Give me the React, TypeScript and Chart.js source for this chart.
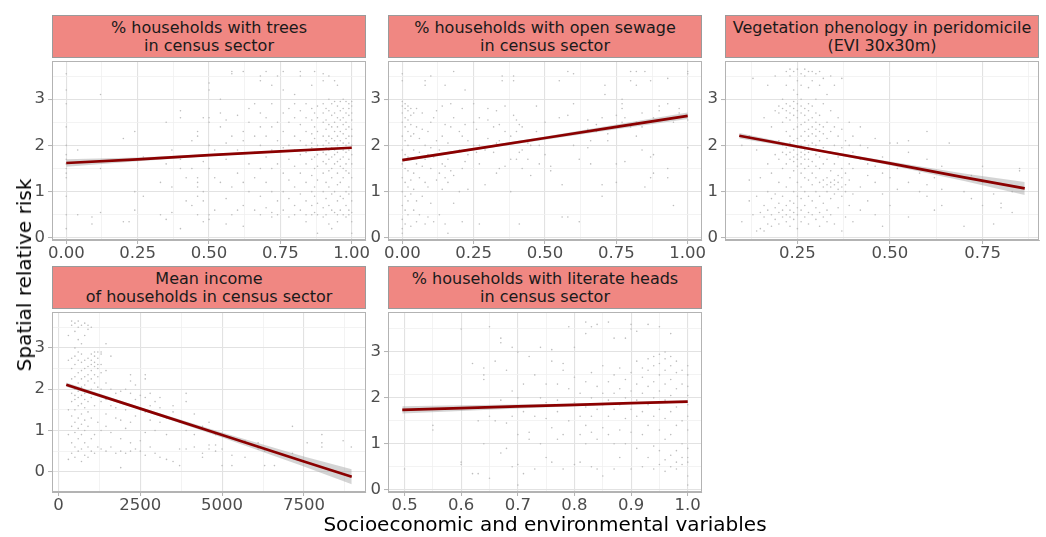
import React, { useEffect, useRef } from "react";
import { Chart, registerables } from "chart.js";

Chart.register(...registerables);

const FONT = "DejaVu Sans";

// ---------- tick labels ----------
const unitTicks = [0, 0.25, 0.5, 0.75, 1];
const unitLabels = ["0.00", "0.25", "0.50", "0.75", "1.00"];
const unitMinor = [0.125, 0.375, 0.625, 0.875];
const eviTicks = [0.25, 0.5, 0.75];
const eviLabels = ["0.25", "0.50", "0.75"];
const eviMinor = [0.125, 0.375, 0.625, 0.875];
const incomeTicks = [0, 2500, 5000, 7500];
const incomeLabels = ["0", "2500", "5000", "7500"];
const incomeMinor = [1250, 3750, 6250, 8750];
const literacyTicks = [0.5, 0.6, 0.7, 0.8, 0.9, 1.0];
const literacyLabels = ["0.5", "0.6", "0.7", "0.8", "0.9", "1.0"];
const literacyMinor = [0.55, 0.65, 0.75, 0.85, 0.95];
const riskTicks = [0, 1, 2, 3];
const riskLabels = ["0", "1", "2", "3"];
const riskMinor = [0.5, 1.5, 2.5, 3.5];

// ---------- scatter points: [x, [y values]] ----------
type Col = [number, number[]];

const treesPoints: Col[] = [
  [0.0, [0.2, 0.5, 0.9, 1.3, 1.4, 1.5, 1.6, 1.7, 1.8, 2.0, 2.4, 2.9, 3.2, 3.55]],
  [0.04, [1.9, 0.5]], [0.09, [0.45, 0.3]], [0.12, [3.1, 0.55, 1.5]],
  [0.2, [0.35, 2.15]], [0.22, [0.35]], [0.24, [0.6, 1.0, 2.3]], [0.27, [0.9, 1.75]],
  [0.33, [1.2, 0.5]], [0.35, [2.5, 0.4, 1.6]], [0.37, [0.55, 1.9, 1.1]],
  [0.4, [2.75, 2.6, 1.5, 1.7, 0.2]], [0.42, [0.8, 1.3]], [0.44, [1.5, 0.7, 2.1]],
  [0.46, [2.2, 1.3, 1.2, 1.1, 0.9, 0.5, 2.3]], [0.48, [1.65, 1.0, 0.8, 0.35, 2.6]],
  [0.5, [3.2, 3.35, 2.6, 2.5, 2.0, 1.5, 0.5, 0.4]], [0.52, [1.9, 1.3, 0.6]],
  [0.54, [3.0, 2.7, 2.4, 1.8, 1.2]], [0.56, [2.55, 2.05, 1.7, 0.85, 0.3]],
  [0.58, [3.6, 3.55, 2.2, 1.1, 0.5]], [0.6, [2.65, 1.9, 1.4, 0.6]],
  [0.62, [3.6, 2.3, 2.1, 1.2, 0.7, 0.25]], [0.64, [2.5, 2.8, 1.6, 1.0]],
  [0.66, [2.9, 2.2, 1.85, 1.3, 0.6]], [0.68, [3.5, 3.4, 2.7, 2.4, 2.0, 1.5, 0.5, 0.9]],
  [0.7, [3.6, 2.6, 2.2, 1.75, 1.2, 0.65]], [0.72, [3.3, 2.9, 2.4, 1.9, 1.5, 1.0, 0.55, 0.45]],
  [0.74, [3.5, 2.5, 2.1, 1.6, 0.8, 0.5]], [0.76, [3.6, 3.2, 2.7, 2.3, 1.95, 1.4, 1.0, 0.6]],
  [0.78, [2.8, 2.5, 2.0, 1.7, 1.25, 0.85, 0.45]],
  [0.8, [3.1, 2.9, 2.6, 2.2, 1.9, 1.55, 1.1, 0.7, 0.5]],
  [0.82, [3.5, 3.6, 2.75, 2.45, 2.1, 1.8, 1.4, 0.95, 0.6]],
  [0.84, [2.9, 2.6, 2.3, 2.0, 1.85, 1.6, 1.2, 0.8, 0.5, 0.35]],
  [0.86, [3.3, 2.8, 2.55, 2.25, 2.05, 1.95, 1.7, 1.35, 1.0, 0.7, 0.5]],
  [0.87, [3.6, 2.7, 2.4, 2.15, 1.9, 1.75, 1.5, 1.1, 0.9, 0.55]],
  [0.88, [2.85, 2.6, 2.3, 2.0, 1.8, 1.55, 1.25, 0.75, 0.5, 0.1]],
  [0.9, [3.55, 3.4, 2.9, 2.7, 2.5, 2.2, 2.0, 1.85, 1.65, 1.4, 1.0, 0.65, 0.45]],
  [0.91, [2.8, 2.55, 2.35, 2.1, 1.95, 1.8, 1.6, 1.2, 0.85, 0.5]],
  [0.92, [3.5, 3.0, 2.75, 2.45, 2.2, 2.05, 1.9, 1.7, 1.45, 1.1, 0.7, 0.3]],
  [0.93, [2.9, 2.65, 2.4, 2.15, 1.95, 1.75, 1.5, 1.3, 0.95, 0.6, 0.2]],
  [0.94, [3.4, 2.95, 2.7, 2.5, 2.3, 2.1, 1.9, 1.8, 1.6, 1.0, 0.55]],
  [0.95, [3.3, 2.85, 2.6, 2.4, 2.2, 2.0, 1.85, 1.65, 1.4, 1.15, 0.8, 0.5, 0.35]],
  [0.96, [2.95, 2.75, 2.55, 2.3, 2.1, 1.95, 1.7, 1.55, 1.2, 0.9, 0.6]],
  [0.97, [3.0, 2.8, 2.6, 2.45, 2.25, 2.05, 1.9, 1.75, 1.5, 1.3, 0.85, 0.5]],
  [0.98, [2.95, 2.7, 2.5, 2.35, 2.15, 2.0, 1.85, 1.6, 1.45, 1.0, 0.7, 0.45]],
  [0.99, [2.9, 2.8, 2.65, 2.4, 2.2, 2.05, 1.9, 1.7, 1.4, 1.1, 0.95, 0.6, 0.5]],
  [1.0, [2.95, 2.85, 2.7, 2.55, 2.35, 2.2, 2.0, 1.8, 1.6, 1.3, 1.0, 0.8, 0.55, 0.35, 0.1]],
];

const sewagePoints: Col[] = [
  [0.0, [0.1, 0.2, 0.4, 0.7, 1.0, 1.3, 1.6, 1.9, 2.2, 2.5, 2.7, 2.85, 2.95, 3.4, 3.55]],
  [0.01, [0.3, 0.6, 0.9, 1.2, 1.5, 1.8, 2.1, 2.4, 2.6, 2.8, 2.9]],
  [0.02, [0.5, 0.8, 1.1, 1.45, 1.75, 2.0, 2.3, 2.55, 2.75, 2.85]],
  [0.03, [0.25, 0.95, 1.25, 1.7, 2.2, 2.45, 2.65, 2.8]],
  [0.04, [0.6, 1.05, 1.4, 1.9, 2.25, 2.7]], [0.05, [0.35, 0.8, 1.6, 2.4, 2.8]],
  [0.06, [0.5, 1.3, 1.85, 2.15]], [0.07, [0.9, 1.55, 2.35, 2.7]],
  [0.08, [0.3, 1.2, 1.7, 2.0, 3.3, 3.4]], [0.09, [0.45, 1.1, 1.8, 2.3]],
  [0.1, [0.75, 1.5, 1.95, 2.5, 3.5]], [0.11, [0.35, 1.75, 2.6]], [0.12, [1.25, 2.1, 2.75]],
  [0.13, [0.5, 1.4, 1.9]], [0.14, [1.05, 1.6, 2.2, 2.85]], [0.15, [0.3, 1.3, 1.55, 2.45, 3.3]],
  [0.16, [0.1, 1.2, 1.7, 2.05]], [0.17, [1.45, 1.85, 2.4, 2.9]], [0.18, [0.75, 1.35, 2.6, 3.6]],
  [0.2, [1.0, 1.9, 2.3]], [0.21, [0.35, 1.5, 2.2, 2.8]], [0.22, [1.65, 2.45, 3.2]],
  [0.23, [1.05, 1.8, 2.1]], [0.25, [2.0, 2.5, 2.9]], [0.26, [1.85, 2.35]],
  [0.27, [0.3, 1.6, 2.0, 2.6]], [0.29, [1.15, 1.9]], [0.3, [2.15, 2.55, 2.8]],
  [0.32, [1.85, 2.4]], [0.33, [1.4, 2.05, 2.75]], [0.34, [1.5, 2.1, 2.45]],
  [0.35, [2.0, 3.5, 3.4]], [0.36, [1.55, 2.3, 2.85]], [0.38, [1.0, 1.7, 2.2]],
  [0.39, [2.65, 3.4, 3.5]], [0.4, [1.7, 2.3, 2.55]], [0.41, [0.3, 1.85, 2.45]],
  [0.42, [1.5, 1.9, 2.4]], [0.44, [1.7, 2.05]], [0.45, [1.35, 2.0]], [0.47, [2.3, 2.85]],
  [0.48, [1.6, 2.0]], [0.5, [1.8, 2.5]], [0.52, [1.45, 1.55]], [0.55, [2.6, 3.4]],
  [0.56, [1.15, 0.45]], [0.58, [0.45, 2.65, 3.6]], [0.6, [2.9, 3.55, 2.0]], [0.62, [1.7, 0.35]],
  [0.65, [1.95, 2.35, 2.55]], [0.66, [1.6, 2.1]], [0.68, [2.45, 2.3]], [0.7, [1.15, 0.9, 2.6]],
  [0.71, [3.1, 3.3]], [0.72, [2.1, 2.25]], [0.75, [1.2, 1.6, 2.65]], [0.77, [2.8, 2.9, 3.0, 2.5]],
  [0.78, [2.6, 1.65]], [0.8, [2.4, 3.4, 3.6]], [0.82, [2.2, 2.5, 3.3, 3.6]], [0.84, [2.7, 2.4, 1.9]],
  [0.85, [1.1, 3.6]], [0.87, [1.3, 1.75, 2.5, 3.4]], [0.88, [1.4, 1.8, 2.6]], [0.9, [2.75, 2.85]],
  [0.93, [1.5, 1.3, 3.45, 2.9]], [0.95, [0.7, 2.5]], [0.97, [2.7, 2.8]], [1.0, [1.95, 2.55, 3.55, 3.6]],
];

const eviPoints: Col[] = [
  [0.1, [0.35, 2.0]], [0.12, [1.25, 0.8, 2.2]], [0.13, [3.45, 0.5]], [0.14, [0.15, 0.9, 1.9]],
  [0.15, [0.55, 1.3, 0.2]], [0.16, [0.45, 0.7, 0.15, 2.6]], [0.17, [0.3, 0.6, 1.0, 1.6, 3.3]],
  [0.18, [0.5, 0.85, 1.4, 0.25, 2.4]], [0.19, [0.4, 0.65, 0.95, 1.8, 2.75, 3.5]],
  [0.2, [0.3, 0.55, 0.75, 1.2, 1.7, 2.1, 2.7, 2.85]],
  [0.21, [0.45, 0.6, 0.9, 1.5, 1.85, 2.0, 2.5, 2.8, 3.0]],
  [0.22, [0.35, 0.5, 0.7, 1.1, 1.6, 1.8, 1.95, 2.3, 2.6, 2.75, 2.9, 3.3, 3.6]],
  [0.23, [0.25, 0.45, 0.6, 0.8, 1.3, 1.7, 1.85, 2.05, 2.2, 2.55, 2.7, 2.85, 3.5, 3.65]],
  [0.24, [0.4, 0.55, 0.75, 1.0, 1.45, 1.65, 1.75, 1.9, 2.1, 2.35, 2.65, 2.8, 2.95, 3.2, 3.6]],
  [0.25, [0.2, 0.5, 0.65, 0.9, 1.2, 1.55, 1.7, 1.8, 1.95, 2.15, 2.4, 2.6, 2.75, 2.9, 3.1, 3.4, 3.65]],
  [0.26, [0.35, 0.6, 0.85, 1.1, 1.4, 1.6, 1.75, 1.85, 2.0, 2.2, 2.45, 2.7, 2.85, 3.0, 3.3, 3.55]],
  [0.27, [0.45, 0.7, 1.0, 1.3, 1.5, 1.7, 1.8, 1.9, 2.1, 2.3, 2.5, 2.65, 2.8, 3.5, 3.65]],
  [0.28, [0.3, 0.55, 0.9, 1.25, 1.55, 1.7, 1.85, 2.0, 2.2, 2.35, 2.55, 2.75, 2.9, 3.25, 3.6]],
  [0.29, [0.5, 0.8, 1.15, 1.4, 1.65, 1.9, 2.05, 2.25, 2.4, 2.6, 2.85, 3.4, 3.6]],
  [0.3, [0.4, 0.65, 1.0, 1.3, 1.55, 1.8, 2.0, 2.2, 2.35, 2.5, 2.7, 3.0, 3.55]],
  [0.31, [0.25, 0.55, 0.9, 1.2, 1.5, 1.75, 2.1, 2.3, 2.45, 2.65, 3.3, 3.6]],
  [0.32, [0.45, 0.75, 1.1, 1.25, 1.6, 1.95, 2.25, 2.4, 2.9, 3.45]],
  [0.33, [0.35, 0.6, 1.0, 1.15, 1.3, 1.7, 2.15, 2.5, 3.1]],
  [0.34, [0.5, 0.85, 1.1, 1.2, 1.45, 1.85, 2.3, 2.75, 3.5]],
  [0.35, [0.3, 0.95, 1.15, 1.25, 1.6, 2.0, 2.4, 3.3]],
  [0.36, [0.65, 1.05, 1.2, 1.35, 1.75, 2.2, 2.6]],
  [0.37, [0.15, 0.9, 1.1, 1.3, 1.5, 1.95, 2.35, 3.45]],
  [0.38, [0.45, 1.0, 1.15, 1.4, 1.8, 2.1]], [0.39, [0.7, 1.25, 1.6, 2.0, 2.5]],
  [0.4, [0.35, 0.95, 1.5, 1.85, 2.2]], [0.42, [0.6, 1.1, 1.7, 2.0, 2.4]],
  [0.44, [0.8, 1.35, 1.95, 1.6]], [0.46, [0.5, 1.2, 1.55, 2.15]], [0.48, [0.25, 0.95, 1.4, 1.75]],
  [0.5, [0.7, 1.3, 1.6, 2.05]], [0.52, [1.05, 1.5, 2.05]], [0.55, [0.45, 1.2, 1.85, 2.1]],
  [0.58, [1.0, 1.4]], [0.6, [0.9, 1.15, 1.7, 2.3]], [0.62, [1.3, 0.6]], [0.64, [0.7, 1.05, 1.55]],
  [0.66, [2.05]], [0.7, [1.0, 0.25]], [0.72, [0.85, 1.35]], [0.75, [0.7, 1.2, 1.55]],
  [0.78, [0.3, 0.95]], [0.8, [0.65, 0.75]], [0.83, [0.55, 1.0]], [0.85, [1.45, 1.5]],
];

const incomePoints: Col[] = [
  [300, [0.3, 0.9, 1.5, 2.1, 2.7, 3.3]],
  [400, [0.45, 0.7, 1.1, 1.35, 1.7, 1.9, 2.25, 2.5, 2.75, 3.55, 3.65]],
  [500, [0.35, 0.6, 0.95, 1.2, 1.5, 1.75, 1.85, 2.0, 2.3, 2.6, 2.8, 3.0, 3.4, 3.6]],
  [600, [0.5, 0.8, 1.05, 1.3, 1.6, 1.8, 1.95, 2.15, 2.4, 2.7, 2.9, 3.2, 3.5, 3.65]],
  [700, [0.25, 0.55, 0.9, 1.15, 1.4, 1.65, 1.85, 2.05, 2.25, 2.45, 2.65, 2.85, 3.1, 3.55]],
  [800, [0.4, 0.7, 1.0, 1.25, 1.55, 1.75, 1.9, 2.1, 2.3, 2.5, 2.7, 3.3, 3.6]],
  [900, [0.35, 0.6, 1.1, 1.45, 1.7, 1.95, 2.2, 2.35, 2.55, 2.75, 3.45, 3.55]],
  [1000, [0.5, 0.8, 1.3, 1.8, 2.0, 2.25, 2.45, 2.6, 2.7, 2.85, 3.5]],
  [1100, [0.45, 0.9, 1.6, 1.9, 2.15, 2.35, 2.55, 2.65, 2.8, 2.9]],
  [1200, [0.6, 1.2, 1.85, 2.05, 2.3, 2.5, 2.6, 2.75, 2.9]],
  [1300, [0.55, 1.0, 1.7, 2.0, 2.4, 2.6, 2.85, 2.9]],
  [1450, [0.5, 1.1, 1.4, 1.75, 2.15, 2.45, 3.1]], [1600, [0.6, 0.95, 1.6, 2.0, 2.8]],
  [1750, [0.45, 1.3, 1.9, 1.55]], [1900, [0.1, 0.5, 0.8, 1.25, 1.7, 1.95]],
  [2050, [0.45, 1.05, 1.5, 2.0]], [2200, [0.5, 0.7, 1.2, 1.6, 1.9, 2.2, 2.35]],
  [2350, [0.55, 1.35, 1.75, 2.1]], [2500, [0.5, 0.75, 1.5, 1.85]],
  [2650, [0.4, 0.95, 1.45, 1.8, 2.35, 2.25]], [2800, [0.6, 1.25, 1.6, 1.9]],
  [2950, [0.45, 1.0, 1.7]], [3100, [0.35, 1.2, 1.55, 1.8]], [3300, [0.3, 1.3, 0.9]],
  [3500, [0.25, 1.45, 1.6]], [3700, [0.15, 0.55, 1.2]], [3900, [0.55, 1.0, 1.9, 1.7]],
  [4150, [0.6, 0.9, 1.4]], [4400, [0.45, 0.35, 1.1]], [4600, [0.55, 1.2, 0.65]],
  [4800, [0.65, 0.5, 0.9]], [5000, [0.55, 0.15]], [5300, [0.15, 0.4]], [5700, [0.35, 0.75]],
  [6100, [0.7, 0.55]], [6300, [0.15, 0.5]], [6600, [0.15]], [7150, [1.1, 0.45]],
  [7600, [0.7]], [8050, [0.9, 0.7, 0.6]], [8700, [0.75]], [8950, [0.6]],
];

const literacyPoints: Col[] = [
  [0.5, [0.45]], [0.55, [1.3, 1.4]], [0.6, [0.55, 3.5, 0.6]], [0.62, [2.75, 0.35]],
  [0.63, [0.35, 1.5]], [0.64, [2.5, 2.4, 2.65, 1.0]], [0.65, [0.25, 3.55, 1.6]], [0.66, [2.8, 1.5]],
  [0.67, [3.2, 3.3, 0.8, 1.95]], [0.68, [1.45, 0.9, 2.6]], [0.69, [0.5, 3.1, 1.6, 2.15]],
  [0.7, [2.0, 1.8, 1.2, 0.55, 0.1, 3.0]], [0.71, [0.35, 1.7, 2.3]], [0.72, [1.1, 1.25, 2.9]],
  [0.73, [0.45, 1.6, 2.5]], [0.74, [3.1, 2.0, 1.0]], [0.75, [1.55, 2.3, 0.7, 1.9]],
  [0.76, [0.6, 1.35, 2.8, 3.05]], [0.77, [1.7, 1.95, 2.3, 1.1]], [0.78, [0.45, 1.2, 2.6, 2.75]],
  [0.79, [1.5, 2.2, 3.55, 1.85]], [0.8, [0.55, 1.9, 2.45, 3.1]], [0.81, [1.2, 1.6, 2.1, 0.6]],
  [0.82, [1.0, 1.4, 1.8, 2.35, 3.4, 3.65]], [0.83, [1.25, 1.6, 2.0, 2.55, 3.55, 0.5]],
  [0.84, [0.45, 1.1, 1.75, 2.25, 3.6]], [0.85, [1.35, 1.85, 2.1, 2.7, 0.3]],
  [0.86, [1.2, 1.6, 1.95, 2.35, 3.65]], [0.87, [0.45, 1.0, 1.75, 2.1, 2.5, 3.3]],
  [0.88, [1.3, 1.85, 2.2, 2.65, 0.7]], [0.89, [1.0, 1.55, 2.0, 2.4, 3.3]],
  [0.9, [0.45, 1.25, 1.75, 2.15, 2.55, 3.5, 3.6]], [0.91, [0.9, 1.6, 1.95, 2.3, 2.8, 3.45]],
  [0.92, [0.5, 1.2, 1.7, 2.1, 2.45, 2.65]], [0.93, [0.7, 1.4, 1.85, 2.25, 2.6, 2.85, 3.6]],
  [0.94, [0.45, 0.95, 1.6, 2.0, 2.35, 2.7, 2.9]],
  [0.95, [0.55, 0.85, 1.3, 1.75, 2.15, 2.5, 2.75, 2.95, 3.55]],
  [0.96, [0.4, 0.65, 1.1, 1.55, 1.95, 2.3, 2.6, 2.85, 3.0]],
  [0.97, [0.5, 0.75, 1.2, 1.7, 2.05, 2.4, 2.7, 2.9, 3.4]],
  [0.98, [0.45, 0.6, 0.85, 1.4, 1.8, 2.2, 2.55, 2.8]],
  [0.99, [0.55, 0.7, 1.0, 1.5, 1.9, 2.3, 2.6]],
  [1.0, [0.1, 0.3, 0.6, 0.7, 0.9, 1.3, 1.6, 1.85, 2.05, 2.25, 2.5, 2.7]],
];

// ---------- linear fits with confidence band ----------
const treesFitX = [0, 0.25, 0.5, 0.75, 1];
const treesFit = [1.62, 1.7, 1.79, 1.87, 1.95];
const treesLo = [1.54, 1.66, 1.765, 1.85, 1.93];
const treesHi = [1.7, 1.74, 1.815, 1.89, 1.97];

const sewageFitX = [0, 0.25, 0.5, 0.75, 1];
const sewageFit = [1.68, 1.92, 2.16, 2.4, 2.64];
const sewageLo = [1.645, 1.895, 2.125, 2.35, 2.57];
const sewageHi = [1.715, 1.945, 2.195, 2.45, 2.71];

const eviFitX = [0.093, 0.3, 0.5, 0.7, 0.864];
const eviFit = [2.21, 1.9, 1.61, 1.31, 1.07];
const eviLo = [2.15, 1.88, 1.57, 1.23, 0.93];
const eviHi = [2.27, 1.92, 1.65, 1.39, 1.21];

const incomeFitX = [235, 2500, 5000, 7500, 8963];
const incomeFit = [2.11, 1.53, 0.89, 0.25, -0.12];
const incomeLo = [2.06, 1.5, 0.83, 0.13, -0.3];
const incomeHi = [2.16, 1.56, 0.95, 0.37, 0.06];

const literacyFitX = [0.496, 0.6, 0.7, 0.8, 0.9, 1.0];
const literacyFit = [1.74, 1.777, 1.813, 1.849, 1.885, 1.92];
const literacyLo = [1.66, 1.715, 1.77, 1.82, 1.865, 1.895];
const literacyHi = [1.82, 1.84, 1.855, 1.878, 1.905, 1.945];

// ---------- layout ----------
const AXW = 22;
const XAH = 30;
const RPAD = 22;
const PW = 314;
const TICK_FONT = 16.5;

interface Spec {
  title: string[];
  left: number;
  stripTop: number;
  top: number;
  bottom: number;
  xMin: number; xMax: number; yMin: number; yMax: number;
  xT: number[]; xL: string[]; xM: number[];
  pts: Col[];
  fx: number[]; f: number[]; lo: number[]; hi: number[];
}

const specs: Spec[] = [
  { title: ["% households with trees", "in census sector"], left: 52, stripTop: 15, top: 57, bottom: 240,
    xMin: -0.05, xMax: 1.05, yMin: -0.046, yMax: 3.826, xT: unitTicks, xL: unitLabels, xM: unitMinor,
    pts: treesPoints, fx: treesFitX, f: treesFit, lo: treesLo, hi: treesHi },
  { title: ["% households with open sewage", "in census sector"], left: 388, stripTop: 15, top: 57, bottom: 240,
    xMin: -0.05, xMax: 1.05, yMin: -0.046, yMax: 3.826, xT: unitTicks, xL: unitLabels, xM: unitMinor,
    pts: sewagePoints, fx: sewageFitX, f: sewageFit, lo: sewageLo, hi: sewageHi },
  { title: ["Vegetation phenology in peridomicile", "(EVI 30x30m)"], left: 725, stripTop: 15, top: 57, bottom: 240,
    xMin: 0.0545, xMax: 0.9025, yMin: -0.046, yMax: 3.826, xT: eviTicks, xL: eviLabels, xM: eviMinor,
    pts: eviPoints, fx: eviFitX, f: eviFit, lo: eviLo, hi: eviHi },
  { title: ["Mean income", "of households in census sector"], left: 52, stripTop: 266, top: 308, bottom: 492,
    xMin: -201, xMax: 9399, yMin: -0.49, yMax: 3.87, xT: incomeTicks, xL: incomeLabels, xM: incomeMinor,
    pts: incomePoints, fx: incomeFitX, f: incomeFit, lo: incomeLo, hi: incomeHi },
  { title: ["% households with literate heads", "in census sector"], left: 388, stripTop: 266, top: 308, bottom: 492,
    xMin: 0.4708, xMax: 1.0252, yMin: -0.05, yMax: 3.87, xT: literacyTicks, xL: literacyLabels, xM: literacyMinor,
    pts: literacyPoints, fx: literacyFitX, f: literacyFit, lo: literacyLo, hi: literacyHi },
];

const near = (a: number, list: number[]) => list.some((m) => Math.abs(m - a) < 1e-9);

function makeScale(axis: "x" | "y", min: number, max: number, majors: number[], labels: string[], minors: number[]) {
  const all = [...majors, ...minors].filter((v) => v >= min && v <= max).sort((a, b) => a - b);
  return {
    type: "linear" as const,
    min,
    max,
    afterBuildTicks: (s: any) => {
      s.ticks = all.map((v) => ({ value: v }));
    },
    afterFit: (s: any) => {
      if (axis === "x") {
        s.height = XAH;
        s.paddingLeft = 0;
        s.paddingRight = 0;
      } else {
        s.width = AXW;
        s.paddingTop = 0;
        s.paddingBottom = 0;
      }
    },
    ticks: {
      autoSkip: false,
      maxRotation: 0,
      minRotation: 0,
      color: "#4d4d4d",
      padding: axis === "x" ? 0 : 3,
      font: { size: TICK_FONT, family: FONT },
      callback: (v: any) => {
        const i = majors.findIndex((m) => Math.abs(m - Number(v)) < 1e-9);
        return i >= 0 ? labels[i] : "";
      },
    },
    grid: {
      drawTicks: true,
      tickLength: 4,
      color: (ctx: any) => (ctx.tick && near(ctx.tick.value, majors) ? "#e2e2e2" : "#f0f0f0"),
      lineWidth: (ctx: any) => (ctx.tick && near(ctx.tick.value, majors) ? 1.1 : 0.8),
      tickColor: (ctx: any) => (ctx.tick && near(ctx.tick.value, majors) ? "#b3b3b3" : "rgba(0,0,0,0)"),
      tickWidth: 1,
    },
    border: { display: true, color: "#b3b3b3", width: 1 },
  };
}

const borderPlugin = {
  id: "panelBorder",
  afterDraw(chart: any) {
    const { ctx, chartArea: a } = chart;
    ctx.save();
    ctx.strokeStyle = "#b3b3b3";
    ctx.lineWidth = 1;
    ctx.strokeRect(Math.round(a.left) + 0.5, Math.round(a.top) + 0.5, Math.round(a.right - a.left) - 1, Math.round(a.bottom - a.top) - 1);
    ctx.restore();
  },
};

function Panel({ spec }: { spec: Spec }) {
  const ref = useRef<HTMLCanvasElement>(null);
  const ph = spec.bottom - spec.top;
  const cw = AXW + PW + RPAD;
  const chh = ph + XAH;
  useEffect(() => {
    const pts = spec.pts.flatMap(([x, ys]) => ys.map((y) => ({ x, y })));
    const line = (arr: number[]) => spec.fx.map((x, i) => ({ x, y: arr[i] }));
    const chart = new Chart(ref.current as HTMLCanvasElement, {
      type: "scatter",
      data: {
        datasets: [
          { type: "scatter", data: pts, pointRadius: 0.8, pointBackgroundColor: "#bdbdbd", pointBorderWidth: 0, order: 4 } as any,
          { type: "line", data: line(spec.lo), borderWidth: 0, borderColor: "rgba(0,0,0,0)", pointRadius: 0, fill: false, order: 3 } as any,
          { type: "line", data: line(spec.hi), borderWidth: 0, borderColor: "rgba(0,0,0,0)", pointRadius: 0, fill: "-1", backgroundColor: "rgba(153,153,153,0.42)", order: 2 } as any,
          { type: "line", data: line(spec.f), borderColor: "#8b0000", borderWidth: 2.7, pointRadius: 0, fill: false, order: 1 } as any,
        ],
      },
      options: {
        animation: false,
        responsive: false,
        maintainAspectRatio: false,
        devicePixelRatio: 1,
        layout: { padding: { left: 0, top: 0, right: RPAD, bottom: 0 } },
        plugins: { legend: { display: false }, tooltip: { enabled: false }, title: { display: false } },
        scales: {
          x: makeScale("x", spec.xMin, spec.xMax, spec.xT, spec.xL, spec.xM) as any,
          y: makeScale("y", spec.yMin, spec.yMax, riskTicks, riskLabels, riskMinor) as any,
        },
      },
      plugins: [borderPlugin],
    });
    return () => chart.destroy();
  }, [spec]);

  return (
    <>
      <div
        style={{
          position: "absolute",
          left: spec.left,
          top: spec.stripTop,
          width: PW,
          height: spec.top - spec.stripTop + 1,
          boxSizing: "border-box",
          background: "#F08782",
          border: "1px solid #9a9a9a",
          display: "flex",
          flexDirection: "column",
          alignItems: "center",
          justifyContent: "center",
          color: "#1a1a1a",
          fontSize: 16,
          lineHeight: "17.5px",
          textAlign: "center",
          whiteSpace: "nowrap",
        }}
      >
        {spec.title.map((t, i) => (
          <div key={i}>{t}</div>
        ))}
      </div>
      <canvas
        ref={ref}
        width={cw}
        height={chh}
        style={{ position: "absolute", left: spec.left - AXW, top: spec.top, width: cw, height: chh }}
      />
    </>
  );
}

export default function App() {
  return (
    <div
      style={{
        position: "absolute",
        left: 0,
        top: 0,
        width: 1046,
        height: 537,
        overflow: "hidden",
        background: "#ffffff",
        fontFamily: FONT,
      }}
    >
      {specs.map((s, i) => (
        <Panel key={i} spec={s} />
      ))}
      <div
        style={{
          position: "absolute",
          left: 24,
          top: 275,
          transform: "translate(-50%, -50%) rotate(-90deg)",
          whiteSpace: "nowrap",
          fontSize: 20,
          color: "#000",
        }}
      >
        Spatial relative risk
      </div>
      <div
        style={{
          position: "absolute",
          left: 545,
          top: 524,
          transform: "translate(-50%, -50%)",
          whiteSpace: "nowrap",
          fontSize: 20,
          color: "#000",
        }}
      >
        Socioeconomic and environmental variables
      </div>
    </div>
  );
}
